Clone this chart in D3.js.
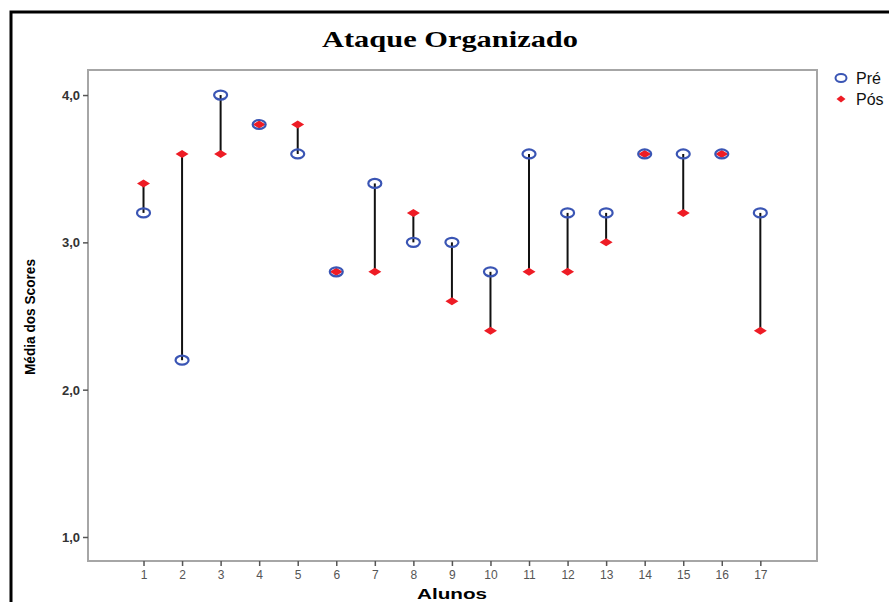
<!DOCTYPE html>
<html>
<head>
<meta charset="utf-8">
<script src="https://cdn.jsdelivr.net/npm/d3@7"></script>
<style>
  body { margin: 0; background: #fff; }
  svg { display: block; }
</style>
</head>
<body>
<div id="chart"></div>
<script>
const alunos = [1, 2, 3, 4, 5, 6, 7, 8, 9, 10, 11, 12, 13, 14, 15, 16, 17];
const pre = [3.2, 2.2, 4.0, 3.8, 3.6, 2.8, 3.4, 3.0, 3.0, 2.8, 3.6, 3.2, 3.2, 3.6, 3.6, 3.6, 3.2];
const pos = [3.4, 3.6, 3.6, 3.8, 3.8, 2.8, 2.8, 3.2, 2.6, 2.4, 2.8, 2.8, 3.0, 3.6, 3.2, 3.6, 2.4];
const yTicks = [1, 2, 3, 4];
const legendItems = ["Pré", "Pós"];

drawChart();

function drawChart() {
    const width = 889;
    const height = 602;
    const svg = d3.select("#chart").append("svg")
        .attr("width", width)
        .attr("height", height);

    // outer black frame (runs past the picture edge)
    svg.append("rect")
        .attr("x", 11).attr("y", 12)
        .attr("width", 900).attr("height", 620)
        .attr("fill", "none")
        .attr("stroke", "#000")
        .attr("stroke-width", 3);

    const plot = { left: 88, top: 70, right: 817, bottom: 561 };

    const x = d3.scaleLinear().domain([-0.44, 18.47]).range([plot.left, plot.right]);
    const y = d3.scaleLinear().domain([0.837, 4.17]).range([plot.bottom, plot.top]);

    // plot frame
    svg.append("rect")
        .attr("x", plot.left).attr("y", plot.top)
        .attr("width", plot.right - plot.left)
        .attr("height", plot.bottom - plot.top)
        .attr("fill", "none")
        .attr("stroke", "#a6a6a6")
        .attr("stroke-width", 2);

    const xAxis = svg.append("g")
        .attr("transform", `translate(0,${plot.bottom})`)
        .call(d3.axisBottom(x).tickValues(alunos).tickSize(5).tickPadding(4).tickFormat(d3.format("d")));
    xAxis.select(".domain").remove();
    xAxis.selectAll("line").attr("stroke", "#555").attr("stroke-width", 1.5);
    xAxis.selectAll("text")
        .attr("fill", "#555")
        .style("font-family", "Liberation Sans, Arial, sans-serif")
        .style("font-size", "12px");

    const yAxis = svg.append("g")
        .attr("transform", `translate(${plot.left},0)`)
        .call(d3.axisLeft(y).tickValues(yTicks).tickSize(5).tickPadding(3).tickFormat(d => d3.format(".1f")(d).replace(".", ",")));
    yAxis.select(".domain").remove();
    yAxis.selectAll("line").attr("stroke", "#555").attr("stroke-width", 1.5);
    yAxis.selectAll("text")
        .attr("fill", "#333")
        .attr("dy", "0.35em")
        .style("font-family", "Liberation Sans, Arial, sans-serif")
        .style("font-size", "13px")
        .style("font-weight", "bold");

    // title
    svg.append("text")
        .attr("x", 450).attr("y", 47)
        .attr("text-anchor", "middle")
        .attr("textLength", 256)
        .attr("lengthAdjust", "spacingAndGlyphs")
        .style("font-family", "Liberation Serif, Times New Roman, serif")
        .style("font-size", "24px")
        .style("font-weight", "bold")
        .text("Ataque Organizado");

    svg.append("text")
        .attr("x", 452).attr("y", 599)
        .attr("text-anchor", "middle")
        .attr("textLength", 70)
        .attr("lengthAdjust", "spacingAndGlyphs")
        .style("font-family", "Liberation Sans, Arial, sans-serif")
        .style("font-size", "15px")
        .style("font-weight", "bold")
        .text("Alunos");

    svg.append("text")
        .attr("transform", "translate(35,317) rotate(-90)")
        .attr("text-anchor", "middle")
        .attr("textLength", 116)
        .attr("lengthAdjust", "spacingAndGlyphs")
        .style("font-family", "Liberation Sans Narrow, Liberation Sans, Arial, sans-serif")
        .style("font-size", "15px")
        .style("font-weight", "bold")
        .text("Média dos Scores");

    const data = alunos.map((a, i) => ({ a: a, pre: pre[i], pos: pos[i] }));

    svg.selectAll("line.drop")
        .data(data)
        .enter()
        .append("line")
        .attr("class", "drop")
        .attr("x1", d => x(d.a))
        .attr("x2", d => x(d.a))
        .attr("y1", d => y(d.pre))
        .attr("y2", d => y(d.pos))
        .attr("stroke", "#111")
        .attr("stroke-width", 2);

    const diamond = "M-6.5,0 L0,-4 L6.5,0 L0,4 Z";

    svg.selectAll("path.pos")
        .data(data)
        .enter()
        .append("path")
        .attr("class", "pos")
        .attr("transform", d => `translate(${x(d.a)},${y(d.pos)})`)
        .attr("d", diamond)
        .attr("fill", "#ee1c25");

    svg.selectAll("ellipse.pre")
        .data(data)
        .enter()
        .append("ellipse")
        .attr("class", "pre")
        .attr("cx", d => x(d.a))
        .attr("cy", d => y(d.pre))
        .attr("rx", 6.5)
        .attr("ry", 4.5)
        .attr("fill", "none")
        .attr("stroke", "#3a55b4")
        .attr("stroke-width", 2.2);

    // legend
    const legend = svg.append("g").attr("transform", "translate(841,78)");
    legend.append("ellipse")
        .attr("cx", 0).attr("cy", 0)
        .attr("rx", 5.5).attr("ry", 4)
        .attr("fill", "none")
        .attr("stroke", "#3a55b4")
        .attr("stroke-width", 2);
    legend.append("path")
        .attr("transform", "translate(0,21)")
        .attr("d", "M-4.5,0 L0,-3.5 L4.5,0 L0,3.5 Z")
        .attr("fill", "#ee1c25");
    legend.selectAll("text")
        .data(legendItems)
        .enter()
        .append("text")
        .attr("x", 15)
        .attr("y", (d, i) => i * 21 + 6)
        .style("font-family", "Liberation Sans, Arial, sans-serif")
        .style("font-size", "16px")
        .attr("fill", "#111")
        .text(d => d);
}
</script>
</body>
</html>
